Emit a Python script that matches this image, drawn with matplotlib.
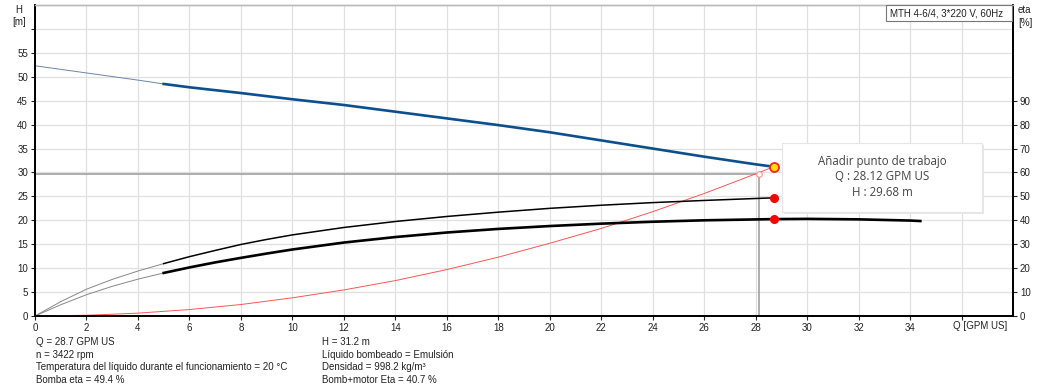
import numpy as np
import matplotlib
matplotlib.use("Agg")
import matplotlib.pyplot as plt
from matplotlib.patches import Rectangle

plt.rcParams['font.family'] = ['Liberation Sans', 'DejaVu Sans']
plt.rcParams['lines.solid_joinstyle'] = 'round'

# H curve (m) vs Q (GPM US); points up to q_min form the thin extrapolated part
q_h = [0, 2, 4, 5, 6, 8, 10, 12, 14, 16, 18, 20, 22, 24, 26, 28, 28.7]
h_vals = [52.3, 50.8, 49.3, 48.5, 47.8, 46.6, 45.3, 44.1, 42.7, 41.3, 39.9, 38.4, 36.7, 35.0, 33.3, 31.7, 31.2]

# pump eta (%)
q_eta_p = [0, 1, 2, 3, 4, 5, 6, 7, 8, 9, 10, 12, 14, 16, 18, 20, 22, 24, 26, 28.7]
eta_p = [0, 6.0, 11.2, 15.3, 18.8, 21.9, 24.8, 27.4, 29.9, 32.0, 33.9, 37.0, 39.5, 41.6, 43.4, 45.0, 46.3, 47.4, 48.3, 49.4]

# pump + motor eta (%)
q_eta_m = [0, 1, 2, 3, 4, 5, 6, 7, 8, 9, 10, 12, 14, 16, 18, 20, 22, 24, 26, 28.7, 30, 32, 34, 34.4]
eta_m = [0, 4.7, 8.9, 12.4, 15.4, 18.0, 20.3, 22.4, 24.3, 26.1, 27.8, 30.7, 33.0, 34.9, 36.4, 37.6, 38.6, 39.4, 40.0, 40.5, 40.6, 40.4, 39.9, 39.7]

# system curve
q_sys = [0, 2, 4, 6, 8, 10, 12, 14, 16, 18, 20, 22, 24, 26, 28, 28.7]
h_sys = [0, 0.15, 0.6, 1.35, 2.4, 3.8, 5.45, 7.4, 9.7, 12.3, 15.2, 18.3, 21.8, 25.6, 29.7, 31.2]

q_op, h_op = 28.7, 31.2
eta_p_op, eta_m_op = 49.4, 40.7
q_req, h_req = 28.12, 29.68
q_min = 5  # start of the bold (allowed) range

info_left = ["Q = 28.7 GPM US", "n = 3422 rpm",
             "Temperatura del líquido durante el funcionamiento = 20 °C",
             "Bomba eta = 49.4 %"]
info_right = ["H = 31.2 m", "Líquido bombeado = Emulsión",
              "Densidad = 998.2 kg/m³", "Bomb+motor Eta = 40.7 %"]

W, H = 1051, 388
fig = plt.figure(figsize=(W / 100, H / 100), dpi=100)
ax = fig.add_axes([35 / W, 72 / H, 978 / W, 311 / H])
ax2 = ax.twinx()

ax.set_xlim(0, 38)
ax.set_ylim(0, 65)
ax2.set_ylim(0, 130)

ax.set_xticks(np.arange(0, 37, 2))
ax.set_xticklabels([str(v) if v <= 34 else "" for v in range(0, 37, 2)])
ax.set_yticks(np.arange(0, 61, 5))
ax.set_yticklabels([str(v) if v <= 55 else "" for v in range(0, 61, 5)])
ax2.set_yticks(np.arange(0, 91, 10))

ax.grid(True, color="#e0e0e0", lw=0.9)
ax.set_axisbelow(True)
for a in (ax, ax2):
    a.tick_params(labelsize=7, colors="#222222", length=3, width=0.8, pad=2)
    a.spines['top'].set_color("#bbbbbb")
    a.spines['top'].set_linewidth(1)
    for s in ('left', 'right', 'bottom'):
        a.spines[s].set_linewidth(1.3)
        a.spines[s].set_color("black")

# working point helper lines
ax.plot([0, q_req], [h_req, h_req], color="#999999", lw=1.1, zorder=2)
ax.plot([q_req, q_req], [0, h_req], color="#999999", lw=1.1, zorder=2)

# system curve
ax.plot(q_sys, h_sys, color="#ff5555", lw=0.7, zorder=3)

# H curve
i0 = q_h.index(q_min)
ax.plot(q_h[:i0 + 1], h_vals[:i0 + 1], color="#6a85a8", lw=0.7, zorder=4)
ax.plot(q_h[i0:], h_vals[i0:], color="#0c4f8f", lw=1.9, zorder=4)

# eta curves
j0 = q_eta_p.index(q_min)
ax2.plot(q_eta_p[:j0 + 1], eta_p[:j0 + 1], color="#888888", lw=0.7)
ax2.plot(q_eta_p[j0:], eta_p[j0:], color="black", lw=1.1)
k0 = q_eta_m.index(q_min)
ax2.plot(q_eta_m[:k0 + 1], eta_m[:k0 + 1], color="#888888", lw=0.7)
ax2.plot(q_eta_m[k0:], eta_m[k0:], color="black", lw=1.9)

ax2.plot([q_op, q_op], [eta_p_op, eta_m_op], ls="none", marker="o", ms=5.5,
         color="red", zorder=6)
ax2.plot([q_op], [2 * h_op], ls="none", marker="o", ms=6.5, mfc="#ffe000",
         mec="#ff2020", mew=1.3, zorder=7)
ax2.plot([q_req], [2 * h_req], ls="none", marker="o", ms=4, mfc="white",
         mec="#ff9090", mew=0.8, zorder=6)

# axis titles
fig.text(19 / W, 1 - 16 / H, "H\n[m]", fontsize=7, color="#222222",
         ha="center", va="center", linespacing=1.3)
fig.text(1018 / W, 1 - 16.5 / H, "eta\n[%]", fontsize=7, color="#222222",
         ha="left", va="center", linespacing=1.3)
fig.text(953 / W, 1 - 326 / H, "Q [GPM US]", fontsize=7, color="#222222",
         ha="left", va="center")

# title box
fig.patches.append(Rectangle((886 / W, 1 - 21 / H), 126 / W, 16 / H,
                             transform=fig.transFigure, fc="white",
                             ec="#777777", lw=0.8, zorder=5))
fig.text(890 / W, 1 - 13 / H, "MTH 4-6/4, 3*220 V, 60Hz", fontsize=7,
         color="#222222", ha="left", va="center", zorder=6)

# tooltip
fig.patches.append(Rectangle((784 / W, 1 - 214 / H), 200 / W, 69 / H,
                             transform=fig.transFigure, fc="#e8e8e8",
                             ec="none", zorder=9))
fig.patches.append(Rectangle((782 / W, 1 - 212 / H), 200 / W, 69 / H,
                             transform=fig.transFigure, fc="white",
                             ec="#e6e6e6", lw=0.8, zorder=10))
tip = ["Añadir punto de trabajo", "Q : 28.12 GPM US", "H : 29.68 m"]
for i, t in enumerate(tip):
    fig.text(882 / W, 1 - (161 + 16 * i) / H, t, fontsize=8.3,
             family=["Open Sans", "DejaVu Sans"], color="#444444",
             ha="center", va="center", zorder=11)

# info lines
for i, t in enumerate(info_left):
    fig.text(36 / W, 1 - (342 + 12.6 * i) / H, t, fontsize=7,
             color="#222222", ha="left", va="center")
for i, t in enumerate(info_right):
    fig.text(322 / W, 1 - (342 + 12.6 * i) / H, t, fontsize=7,
             color="#222222", ha="left", va="center")

fig.savefig("out.png", dpi=100)
